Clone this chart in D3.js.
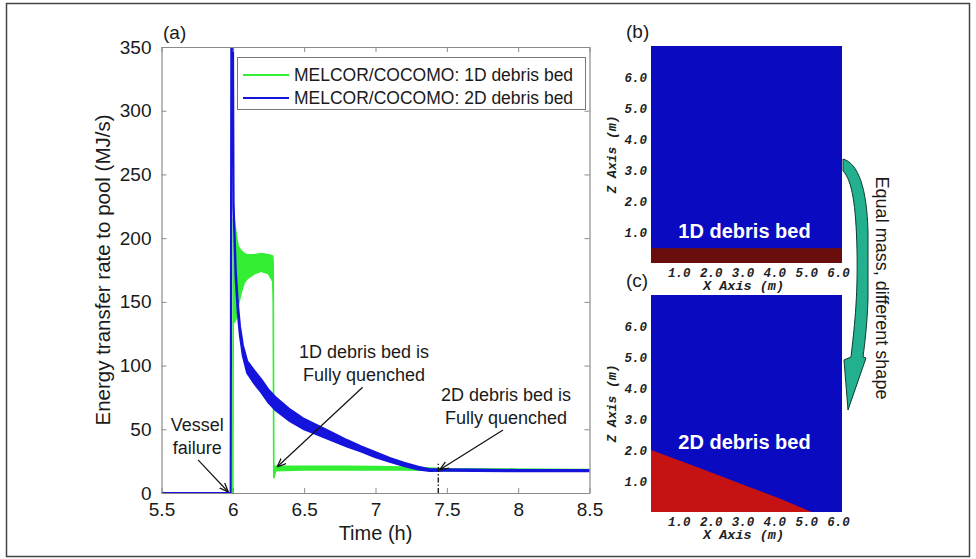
<!DOCTYPE html>
<html><head><meta charset="utf-8">
<script src="https://cdn.jsdelivr.net/npm/d3@7"></script>
<style>body{margin:0;background:#fff} svg{display:block}</style>
</head><body><svg id="c" width="976" height="559"></svg>
<script>
// ---------- Panel (a) data ----------
const xTicks = [5.5, 6, 6.5, 7, 7.5, 8, 8.5];
const xTickLabels = ["5.5", "6", "6.5", "7", "7.5", "8", "8.5"];
const yTicks = [0, 50, 100, 150, 200, 250, 300, 350];
const seriesNames = ["MELCOR/COCOMO: 1D debris bed", "MELCOR/COCOMO: 2D debris bed"];

const timeBlue   = [5.5, 5.985, 5.99, 6.0, 6.005, 6.01, 6.02, 6.035, 6.05, 6.07, 6.1, 6.15, 6.2, 6.25, 6.3, 6.4, 6.5, 6.6, 6.7, 6.8, 6.9, 7.0, 7.1, 7.2, 7.3, 7.38, 7.5, 7.7, 8.0, 8.5];
const blueRate   = [0, 0, 380, 380, 226, 208, 172, 145, 127, 112, 99, 91, 84, 76, 70, 61, 54, 49, 44, 39, 34.5, 30, 26, 22.5, 19.5, 18, 18, 17.8, 17.6, 17.5];
const blueSpread = [0, 0, 0, 0, 1.5, 2, 3, 3.5, 3.5, 4, 4.5, 5, 5, 5, 5, 4.5, 4, 3.5, 3, 2.5, 2, 2, 1.5, 1.2, 1, 0.6, 0.5, 0.5, 0.4, 0.4];

const timeGreen = [6.0, 6.003, 6.01, 6.02, 6.03, 6.04, 6.06, 6.08, 6.1, 6.15, 6.2, 6.25, 6.28, 6.283, 6.287, 6.29, 6.3, 6.5, 6.8, 7.0, 7.2, 7.38, 7.5, 8.5];
const greenHigh = [0, 215, 214, 206, 198, 193, 190, 188, 187, 187, 188, 187, 186, 180, 22, 21, 21, 21, 21, 20.8, 20.3, 19.5, 19, 18.5];
const greenLow  = [0, 135, 134, 136, 140, 148, 158, 165, 168, 172, 174, 172, 166, 150, 12, 13, 17.5, 18, 18, 18, 18, 17.8, 17.5, 17.5];

const quench2DTime = 7.44;
const quench2DMark = [0, 23];

// annotations: text lines, text anchor (h, MJ/s), arrow from (h, MJ/s), arrow to (h, MJ/s)
const annotTexts = [["Vessel", "failure"], ["1D debris bed is", "Fully quenched"], ["2D debris bed is", "Fully quenched"]];
const annotTextPos = [[5.75, 48.7], [6.92, 106], [7.915, 72]];
const annotArrowFrom = [[5.756, 26], [6.91, 83], [7.894, 49.4]];
const annotArrowTo = [[5.968, 0.8], [6.31, 20.4], [7.45, 18.2]];

// ---------- Panels (b), (c) data ----------
const bedTicks = [1, 2, 3, 4, 5, 6];
const poolWidth = 6.0, poolHeight = 7.0;
const bed1DHeight = 0.48;
const bed2DX = [0, 1, 2, 3, 4, 5.05];
const bed2DZ = [2.0, 1.62, 1.23, 0.84, 0.45, 0];

// ---------- drawing ----------
const svg = d3.select('#c');
const FONT = "'Liberation Sans', Arial, sans-serif";
const MONO = "'Liberation Mono', 'Courier New', monospace";

// outer frame
svg.append('rect').attr('x', 6.5).attr('y', 3.5).attr('width', 963).attr('height', 553)
  .attr('fill', 'none').attr('stroke', '#444').attr('stroke-width', 1.5);

const x = d3.scaleLinear().domain([5.5, 8.5]).range([161.5, 589.5]);
const y = d3.scaleLinear().domain([0, 350]).range([493, 47]);

svg.append('clipPath').attr('id', 'clipA').append('rect')
  .attr('x', x(5.5)).attr('y', y(350)).attr('width', x(8.5) - x(5.5)).attr('height', y(0) - y(350));

const plot = svg.append('g').attr('clip-path', 'url(#clipA)');

// green series (band)
const gData = timeGreen.map((t, i) => ({t, hi: greenHigh[i], lo: greenLow[i]}));
plot.append('path').datum(gData)
  .attr('d', d3.area().x(d => x(d.t)).y0(d => y(d.lo)).y1(d => y(d.hi)))
  .attr('fill', '#33ee33').attr('stroke', '#33ee33').attr('stroke-width', 1.6).attr('stroke-linejoin', 'round');

// blue series (band)
const bData = timeBlue.map((t, i) => ({t, v: blueRate[i], s: blueSpread[i]}));
plot.append('path').datum(bData)
  .attr('d', d3.area().x(d => x(d.t)).y0(d => y(d.v - d.s)).y1(d => y(d.v + d.s)))
  .attr('fill', '#1414dc').attr('stroke', '#1414dc').attr('stroke-width', 2.2).attr('stroke-linejoin', 'round');

// dash-dot line at 2D quench
plot.append('line')
  .attr('x1', x(quench2DTime)).attr('x2', x(quench2DTime))
  .attr('y1', y(quench2DMark[0])).attr('y2', y(quench2DMark[1]))
  .attr('stroke', '#111').attr('stroke-width', 1.3).attr('stroke-dasharray', '5,2,1.5,2');

// axes
const axColor = '#8a8a8a';
function styleAxis(g, labels) {
  g.select('.domain').attr('stroke', axColor).attr('stroke-width', 1.2);
  g.selectAll('.tick line').attr('stroke', axColor).attr('stroke-width', 1);
  g.selectAll('.tick text').attr('fill', '#1a1a1a').style('font-family', FONT).style('font-size', '19px');
  if (!labels) g.selectAll('.tick text').remove();
}
svg.append('g').attr('transform', `translate(0,${y(0)})`)
  .call(d3.axisBottom(x).tickValues(xTicks).tickFormat((d, i) => xTickLabels[i]).tickSizeInner(-5).tickSizeOuter(0).tickPadding(10))
  .call(g => styleAxis(g, true));
svg.append('g').attr('transform', `translate(0,${y(350)})`)
  .call(d3.axisTop(x).tickValues(xTicks).tickSizeInner(-5).tickSizeOuter(0))
  .call(g => styleAxis(g, false));
svg.append('g').attr('transform', `translate(${x(5.5)},0)`)
  .call(d3.axisLeft(y).tickValues(yTicks).tickFormat(d3.format('d')).tickSizeInner(-5).tickSizeOuter(0).tickPadding(10))
  .call(g => styleAxis(g, true));
svg.append('g').attr('transform', `translate(${x(8.5)},0)`)
  .call(d3.axisRight(y).tickValues(yTicks).tickSizeInner(-5).tickSizeOuter(0))
  .call(g => styleAxis(g, false));

// axis titles
svg.append('text').attr('x', (x(5.5) + x(8.5)) / 2).attr('y', 540).attr('text-anchor', 'middle')
  .style('font-family', FONT).style('font-size', '20px').attr('fill', '#1a1a1a').text('Time (h)');
svg.append('text').attr('transform', `translate(110,${(y(0) + y(350)) / 2}) rotate(-90)`).attr('text-anchor', 'middle')
  .style('font-family', FONT).style('font-size', '20.5px').attr('fill', '#1a1a1a').text('Energy transfer rate to pool (MJ/s)');
svg.append('text').attr('x', 163).attr('y', 39).style('font-family', FONT).style('font-size', '19px').attr('fill', '#1a1a1a').text('(a)');

// legend
const leg = svg.append('g');
leg.append('rect').attr('x', 237.5).attr('y', 57.5).attr('width', 348).attr('height', 52)
  .attr('fill', '#fff').attr('stroke', '#777').attr('stroke-width', 1);
const legColors = ['#33ee33', '#1414dc'];
seriesNames.forEach((n, i) => {
  const yy = 75 + i * 23;
  leg.append('line').attr('x1', 243).attr('x2', 289).attr('y1', yy).attr('y2', yy).attr('stroke', legColors[i]).attr('stroke-width', 2);
  leg.append('text').attr('x', 294).attr('y', yy).attr('dy', '0.36em').style('font-family', FONT).style('font-size', '17.5px')
    .attr('fill', '#1a1a1a').text(n);
});

// annotations
svg.append('defs').append('marker').attr('id', 'ah').attr('viewBox', '0 0 10 10').attr('refX', 10).attr('refY', 5)
  .attr('markerWidth', 9).attr('markerHeight', 9).attr('markerUnits', 'userSpaceOnUse').attr('orient', 'auto')
  .append('path').attr('d', 'M0,1 L10,5 L0,9').attr('fill', 'none').attr('stroke', '#111').attr('stroke-width', 1.4);
annotTexts.forEach((lines, i) => {
  const t = svg.append('text').attr('text-anchor', 'middle').style('font-family', FONT).style('font-size', '18px').attr('fill', '#1a1a1a');
  lines.forEach((l, j) => t.append('tspan').attr('x', x(annotTextPos[i][0])).attr('y', y(annotTextPos[i][1]) + j * 23).text(l));
  svg.append('line').attr('x1', x(annotArrowFrom[i][0])).attr('y1', y(annotArrowFrom[i][1]))
    .attr('x2', x(annotArrowTo[i][0])).attr('y2', y(annotArrowTo[i][1]))
    .attr('stroke', '#111').attr('stroke-width', 1.2).attr('marker-end', 'url(#ah)');
});

// ---------- Panels (b) and (c) ----------
const xb = d3.scaleLinear().domain([0, poolWidth]).range([651, 842]);
const panels = [
  {label: '(b)', top: 46, bottom: 263, name: '1D debris bed'},
  {label: '(c)', top: 295, bottom: 512, name: '2D debris bed'}
];
const monoStyle = (sel, size) => sel.style('font-family', MONO).style('font-size', (size || 12.5) + 'px').style('font-weight', 'bold').style('font-style', 'italic').attr('fill', '#1e1e1e');
panels.forEach((p, k) => {
  const zs = d3.scaleLinear().domain([0, poolHeight]).range([p.bottom, p.top]);
  const g = svg.append('g');
  g.append('rect').attr('x', xb(0)).attr('y', zs(poolHeight)).attr('width', xb(poolWidth) - xb(0)).attr('height', zs(0) - zs(poolHeight))
    .attr('fill', '#0a0ac0');
  if (k === 0) {
    g.append('rect').attr('x', xb(0)).attr('y', zs(bed1DHeight)).attr('width', xb(poolWidth) - xb(0)).attr('height', zs(0) - zs(bed1DHeight))
      .attr('fill', '#6a0d0d');
  } else {
    const pts = bed2DX.map((v, i) => [xb(v), zs(bed2DZ[i])]);
    pts.push([xb(bed2DX[bed2DX.length - 1]), zs(0)], [xb(0), zs(0)]);
    g.append('path').attr('d', d3.line()(pts) + 'Z').attr('fill', '#c61212');
  }
  g.append('text').attr('x', (xb(0) + xb(poolWidth)) / 2 - 2).attr('y', zs(k === 0 ? 1.05 : 2.25)).attr('dy', '0.36em')
    .attr('text-anchor', 'middle').style('font-family', FONT).style('font-size', '20px').style('font-weight', 'bold')
    .attr('fill', '#fff').text(p.name);
  // axes
  const ax = g.append('g').attr('transform', `translate(${xb(0)},0)`)
    .call(d3.axisLeft(zs).tickValues(bedTicks).tickFormat(d3.format('.1f')).tickSize(0).tickPadding(4));
  ax.select('.domain').remove();
  ax.selectAll('text').call(monoStyle);
  const bx = g.append('g').attr('transform', `translate(0,${zs(0)})`)
    .call(d3.axisBottom(xb).tickValues(bedTicks).tickFormat(d3.format('.1f')).tickSize(0).tickPadding(5));
  bx.select('.domain').remove();
  bx.selectAll('text').attr('dx', -4).call(monoStyle);
  g.append('text').attr('x', (xb(0) + xb(poolWidth)) / 2 - 3).attr('y', p.bottom + 27).attr('text-anchor', 'middle')
    .call(monoStyle, 13.5).text('X Axis (m)');
  g.append('text').attr('transform', `translate(616,${(p.top + p.bottom) / 2}) rotate(-90)`).attr('text-anchor', 'middle')
    .call(monoStyle, 13).text('Z Axis (m)');
  g.append('text').attr('x', 626).attr('y', p.top - 8).style('font-family', FONT).style('font-size', '19px').attr('fill', '#1a1a1a').text(p.label);
});

// curved arrow
svg.append('path')
  .attr('d', 'M843,159 C858,163 867,188 868,232 L868,300 C867,325 865,342 863,357 L866,358 L848,410 L844,360 L851,357 C854,330 858,300 857,250 C856,205 852,180 843,171 Z')
  .attr('fill', '#22b08e').attr('stroke', '#0d3b30').attr('stroke-width', 1);
svg.append('text').attr('transform', 'translate(876,288) rotate(90)').attr('text-anchor', 'middle')
  .style('font-family', FONT).style('font-size', '18px').attr('fill', '#1a1a1a').text('Equal mass, different shape');
</script></body></html>
